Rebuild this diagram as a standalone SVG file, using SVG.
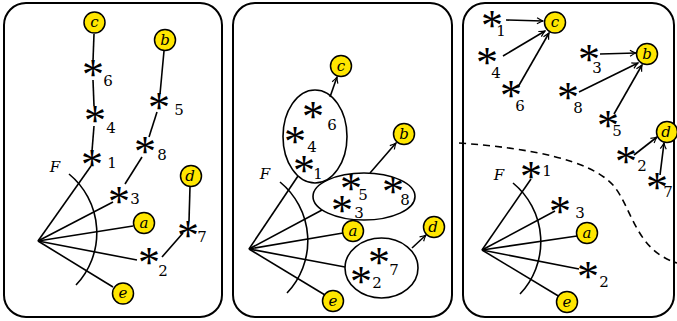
<svg xmlns="http://www.w3.org/2000/svg" width="677" height="321" viewBox="0 0 677 321">
<style>
.panel{fill:#fff;stroke:#000;stroke-width:2}
.e{stroke:#000;stroke-width:1.6;fill:none}
.ar{stroke:#000;stroke-width:1.6;fill:none;marker-end:url(#arr)}
.dash{stroke:#000;stroke-width:1.6;fill:none;stroke-dasharray:7 5}
.leaf circle{fill:#ffe600;stroke:#000;stroke-width:1.5}
.ell{fill:none;stroke:#000;stroke-width:1.6}
.ast{font-family:"Liberation Serif",serif;font-size:44px;text-anchor:middle}
.num{font-family:"DejaVu Serif",serif;font-size:15px;text-anchor:middle}
.var{font-family:"DejaVu Serif",serif;font-style:italic;font-size:15px;text-anchor:middle}
</style>
<defs>
<marker id="arr" viewBox="-7 -4 8 8" refX="0" refY="0" markerWidth="8" markerHeight="8" orient="auto" markerUnits="userSpaceOnUse">
<path d="M-6,-3 Q-2,-0.6 0,0 Q-2,0.6 -6,3" fill="none" stroke="#000" stroke-width="1.2"/>
</marker>
</defs>
<rect class="panel" x="4" y="3" width="218" height="314" rx="22"/>
<rect class="panel" x="233" y="3" width="219" height="314" rx="22"/>
<rect class="panel" x="463" y="3" width="211" height="314" rx="22"/>

<g id="connectors">
<line class="e" x1="94" y1="34" x2="93" y2="61"/>
<line class="e" x1="93" y1="80" x2="94" y2="106"/>
<line class="e" x1="94" y1="126" x2="92" y2="151"/>
<line class="e" x1="164" y1="51" x2="160" y2="94"/>
<line class="e" x1="157" y1="112" x2="149" y2="137"/>
<line class="e" x1="142" y1="157" x2="125" y2="184"/>
<line class="e" x1="190" y1="187" x2="189" y2="221"/>
<line class="e" x1="183" y1="233" x2="162" y2="257"/>
<line class="e" x1="38" y1="241" x2="91" y2="166"/>
<line class="e" x1="38" y1="241" x2="113" y2="202"/>
<line class="e" x1="38" y1="241" x2="133" y2="226"/>
<line class="e" x1="38" y1="241" x2="137" y2="260"/>
<line class="e" x1="38" y1="241" x2="113" y2="287"/>
<path class="e" d="M69,174 A76 76 0 0 1 76,285"/>
<line class="ar" x1="330" y1="97" x2="337" y2="77"/>
<line class="ar" x1="370" y1="173" x2="396" y2="143"/>
<line class="ar" x1="412" y1="248" x2="426" y2="235"/>
<line class="e" x1="249" y1="249" x2="298" y2="176"/>
<line class="e" x1="249" y1="249" x2="322" y2="210"/>
<line class="e" x1="249" y1="249" x2="343" y2="233"/>
<line class="e" x1="249" y1="249" x2="345" y2="267"/>
<line class="e" x1="249" y1="249" x2="325" y2="295"/>
<path class="e" d="M280,182 A76 76 0 0 1 287,293"/>
<line class="ar" x1="506" y1="20" x2="543" y2="21"/>
<line class="ar" x1="503" y1="56" x2="545" y2="31"/>
<line class="ar" x1="518" y1="87" x2="549" y2="33"/>
<line class="ar" x1="600" y1="54" x2="636" y2="53"/>
<line class="ar" x1="579" y1="92" x2="638" y2="63"/>
<line class="ar" x1="614" y1="114" x2="642" y2="65"/>
<line class="ar" x1="634" y1="155" x2="657" y2="137"/>
<line class="ar" x1="660" y1="175" x2="664" y2="143"/>
<line class="e" x1="482" y1="250" x2="531" y2="179"/>
<line class="e" x1="482" y1="250" x2="555" y2="211"/>
<line class="e" x1="482" y1="250" x2="577" y2="236"/>
<line class="e" x1="482" y1="250" x2="579" y2="269"/>
<line class="e" x1="482" y1="250" x2="560" y2="297"/>
<path class="e" d="M513,183 A76 76 0 0 1 520,294"/>
<path class="dash" d="M459,143 C530,148 590,160 613,185 C632,207 635,250 677,263"/>
</g>

<g id="p1-F"><text class="var" x="55" y="172">F</text></g>
<g id="p1-c" class="leaf"><circle cx="94.5" cy="22.5" r="10.5"/><text class="var" x="94.5" y="27">c</text></g>
<g id="p1-b" class="leaf"><circle cx="165" cy="40" r="10.5"/><text class="var" x="165" y="45">b</text></g>
<g id="p1-a" class="leaf"><circle cx="144" cy="223" r="10.5"/><text class="var" x="144" y="227.5">a</text></g>
<g id="p1-d" class="leaf"><circle cx="191" cy="176" r="10.5"/><text class="var" x="190" y="181">d</text></g>
<g id="p1-e" class="leaf"><circle cx="123" cy="293.5" r="10.5"/><text class="var" x="123" y="298">e</text></g>
<g id="p1-s6"><text class="ast" x="93" y="89">*</text><text class="num" x="108" y="86">6</text></g>
<g id="p1-s4"><text class="ast" x="95" y="135">*</text><text class="num" x="111" y="133">4</text></g>
<g id="p1-s1"><text class="ast" x="92" y="179">*</text><text class="num" x="112" y="168">1</text></g>
<g id="p1-s5"><text class="ast" x="159" y="122">*</text><text class="num" x="179" y="115">5</text></g>
<g id="p1-s8"><text class="ast" x="145" y="166">*</text><text class="num" x="162" y="160">8</text></g>
<g id="p1-s3"><text class="ast" x="119" y="216">*</text><text class="num" x="135" y="204">3</text></g>
<g id="p1-s7"><text class="ast" x="188" y="250">*</text><text class="num" x="202" y="242">7</text></g>
<g id="p1-s2"><text class="ast" x="149" y="277">*</text><text class="num" x="163" y="276">2</text></g>

<g id="p2-F"><text class="var" x="265" y="179">F</text></g>
<g id="p2-c" class="leaf"><circle cx="341" cy="66" r="10.5"/><text class="var" x="341" y="70.5">c</text></g>
<g id="p2-b" class="leaf"><circle cx="404" cy="134" r="10.5"/><text class="var" x="404" y="139">b</text></g>
<g id="p2-a" class="leaf"><circle cx="353" cy="231" r="10.5"/><text class="var" x="353" y="235.5">a</text></g>
<g id="p2-d" class="leaf"><circle cx="434" cy="227" r="10.5"/><text class="var" x="433" y="232">d</text></g>
<g id="p2-e" class="leaf"><circle cx="333" cy="301" r="10.5"/><text class="var" x="333" y="305.5">e</text></g>
<g id="p2-g1"><ellipse class="ell" cx="315" cy="136.5" rx="32" ry="46.5"/>
<text class="ast" x="313" y="131">*</text><text class="num" x="332" y="130">6</text>
<text class="ast" x="295" y="156">*</text><text class="num" x="312" y="152">4</text>
<text class="ast" x="304" y="185">*</text><text class="num" x="318" y="179">1</text></g>
<g id="p2-g2"><ellipse class="ell" cx="364" cy="196.5" rx="51" ry="23.5"/>
<text class="ast" x="351" y="203">*</text><text class="num" x="363" y="200">5</text>
<text class="ast" x="393" y="206">*</text><text class="num" x="405" y="205">8</text>
<text class="ast" x="342" y="225">*</text><text class="num" x="359" y="218">3</text></g>
<g id="p2-g3"><ellipse class="ell" cx="381.5" cy="268" rx="36.5" ry="30"/>
<text class="ast" x="379" y="277">*</text><text class="num" x="394" y="275">7</text>
<text class="ast" x="361" y="296">*</text><text class="num" x="377" y="288">2</text></g>

<g id="p3-F"><text class="var" x="499" y="180">F</text></g>
<g id="p3-c" class="leaf"><circle cx="555" cy="22.5" r="10.5"/><text class="var" x="555" y="27">c</text></g>
<g id="p3-b" class="leaf"><circle cx="647" cy="54" r="10.5"/><text class="var" x="647" y="59">b</text></g>
<g id="p3-d" class="leaf"><circle cx="667" cy="132" r="10.5"/><text class="var" x="666" y="137">d</text></g>
<g id="p3-a" class="leaf"><circle cx="587" cy="233" r="10.5"/><text class="var" x="587" y="237.5">a</text></g>
<g id="p3-e" class="leaf"><circle cx="567" cy="302" r="10.5"/><text class="var" x="567" y="306.5">e</text></g>
<g id="p3-s1"><text class="ast" x="492" y="40">*</text><text class="num" x="501" y="36">1</text></g>
<g id="p3-s4"><text class="ast" x="487" y="77">*</text><text class="num" x="496" y="78">4</text></g>
<g id="p3-s6"><text class="ast" x="511" y="110">*</text><text class="num" x="520" y="111">6</text></g>
<g id="p3-s3"><text class="ast" x="589" y="74">*</text><text class="num" x="597" y="73">3</text></g>
<g id="p3-s8"><text class="ast" x="568" y="112">*</text><text class="num" x="578" y="113">8</text></g>
<g id="p3-s5"><text class="ast" x="608" y="140">*</text><text class="num" x="617" y="136">5</text></g>
<g id="p3-s2"><text class="ast" x="626" y="176">*</text><text class="num" x="642" y="171">2</text></g>
<g id="p3-s7"><text class="ast" x="657" y="202">*</text><text class="num" x="668" y="197">7</text></g>
<g id="p3-t1"><text class="ast" x="531" y="191">*</text><text class="num" x="547" y="176">1</text></g>
<g id="p3-t3"><text class="ast" x="560" y="226">*</text><text class="num" x="580" y="218">3</text></g>
<g id="p3-t2"><text class="ast" x="588" y="291">*</text><text class="num" x="604" y="287">2</text></g>
</svg>
